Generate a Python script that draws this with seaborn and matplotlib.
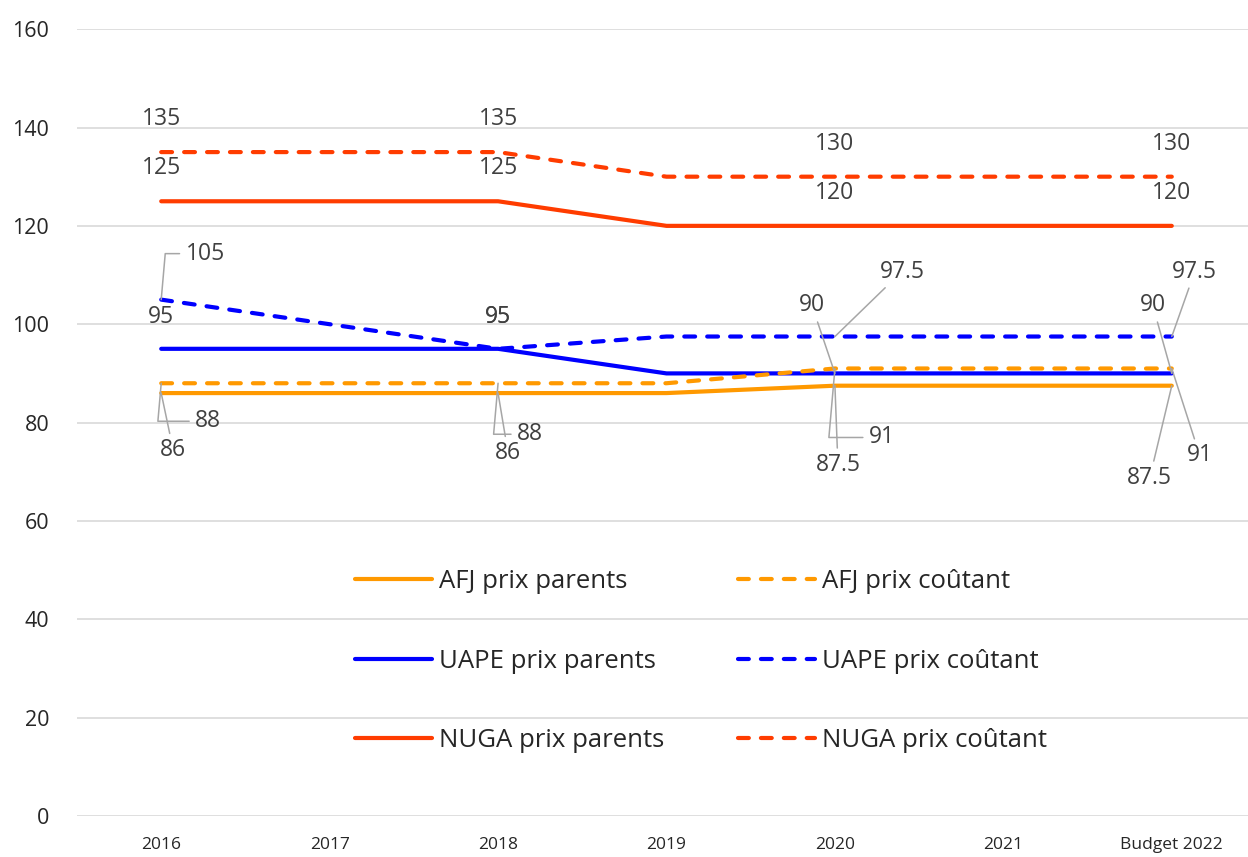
import numpy as np
import pandas as pd
import matplotlib
matplotlib.use("Agg")
import matplotlib.pyplot as plt
import seaborn as sns

# Données du graphique
annees = ["2016", "2017", "2018", "2019", "2020", "2021", "Budget 2022"]
afj_parents = [86, 86, 86, 86, 87.5, 87.5, 87.5]
afj_coutant = [88, 88, 88, 88, 91, 91, 91]
uape_parents = [95, 95, 95, 90, 90, 90, 90]
uape_coutant = [105, 100, 95, 97.5, 97.5, 97.5, 97.5]
nuga_parents = [125, 125, 125, 120, 120, 120, 120]
nuga_coutant = [135, 135, 135, 130, 130, 130, 130]
points_etiquetes = [0, 2, 4, 6]

sns.set_theme(style="white")
plt.rcParams['font.family'] = ['Open Sans', 'DejaVu Sans']

ORANGE = "#FF9900"
BLEU = "#0000FF"
ROUGE = "#FF3C00"
GRIS = "#404040"
LIGNE = "#A6A6A6"

fig = plt.figure(figsize=(12.48, 8.57), dpi=100)
# l'axe déborde légèrement à droite comme dans l'original
ax = fig.add_axes([77 / 1248, 0.0478, 1179 / 1248, 0.9182])

x = np.arange(len(annees))
series = [
    ("AFJ prix parents", afj_parents, ORANGE, False),
    ("UAPE prix parents", uape_parents, BLEU, False),
    ("NUGA prix parents", nuga_parents, ROUGE, False),
    ("AFJ prix coûtant", afj_coutant, ORANGE, True),
    ("UAPE prix coûtant", uape_coutant, BLEU, True),
    ("NUGA prix coûtant", nuga_coutant, ROUGE, True),
]

for nom, valeurs, couleur, tirets in series:
    df = pd.DataFrame({"x": x, "y": valeurs})
    sns.lineplot(data=df, x="x", y="y", ax=ax, color=couleur, lw=3, label=nom)
    ligne = ax.get_lines()[-1]
    if tirets:
        ligne.set_dashes((2.6, 2.9))
        ligne.set_dash_capstyle("round")
    else:
        ligne.set_solid_capstyle("round")

# décalage des étiquettes (pixels, x vers la droite, y vers le bas), type de trait
decalages = {
    "NUGA prix coûtant": [((0, -33), None)] * 4,
    "NUGA prix parents": [((0, -33), None)] * 4,
    "UAPE prix parents": [((0, -32), None), ((0, -32), None),
                          ((-23, -68), "droit"), ((-19, -68), "droit")],
    "UAPE prix coûtant": [((44, -46), "coude"), ((0, -32), None),
                          ((67, -65), "droit"), ((23, -65), "droit")],
    "AFJ prix coûtant": [((47, 38), "coude"), ((32, 51), "coude"),
                         ((47, 69), "coude"), ((28, 87), "droit")],
    "AFJ prix parents": [((12, 57), "droit"), ((10, 60), "droit"),
                         ((3, 79), "droit"), ((-22, 92), "droit")],
}

for nom, valeurs, couleur, tirets in series:
    for k, i in enumerate(points_etiquetes):
        (dx, dy), trait = decalages[nom][k]
        v = valeurs[i]
        props = None
        if trait == "droit":
            props = dict(arrowstyle="-", color=LIGNE, lw=1.1, shrinkA=1, shrinkB=0)
        elif trait == "coude":
            props = dict(arrowstyle="-", color=LIGNE, lw=1.1, shrinkA=2, shrinkB=0,
                         connectionstyle="angle,angleA=0,angleB=85,rad=0")
        ax.annotate(f"{v:g}", xy=(i, v), xytext=(dx, -dy), textcoords="offset pixels",
                    ha="center", va="center", fontsize=16.5, color=GRIS,
                    arrowprops=props)

ax.set_xlim(-0.5, len(annees) - 0.5)
ax.set_ylim(0, 160)
ax.set_yticks(range(0, 161, 20))
ax.set_xticks(x)
ax.set_xticklabels(annees, fontsize=12.5, color="#262626")
ax.tick_params(axis="y", labelsize=15.5, labelcolor="#262626", pad=20, length=0)
ax.tick_params(axis="x", pad=15, length=0)
ax.grid(axis="y", color="#D9D9D9", lw=1.2)
ax.set_axisbelow(True)
for s in ax.spines.values():
    s.set_visible(False)
ax.set_xlabel("")
ax.set_ylabel("")

ax.legend(loc="center left", bbox_to_anchor=(355 / 1248, 1 - 661 / 857),
          bbox_transform=fig.transFigure, ncol=2, frameon=False,
          fontsize=18.5, handlelength=3.0, handletextpad=0.25,
          labelspacing=2.12, columnspacing=2.9, borderaxespad=0,
          borderpad=0)

fig.savefig("out.png", dpi=100)
